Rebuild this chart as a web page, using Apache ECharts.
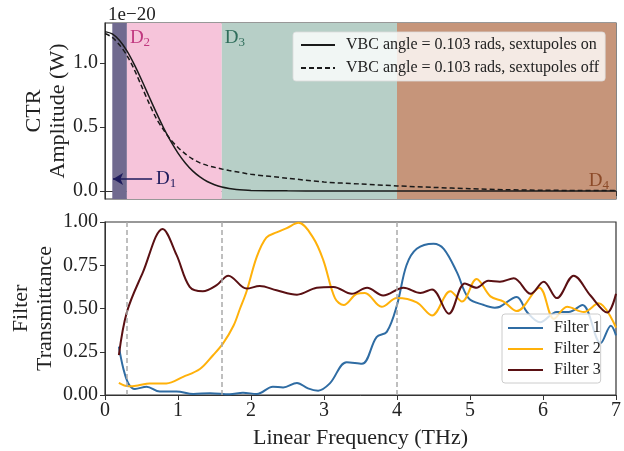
<!DOCTYPE html>
<html>
<head>
<meta charset="utf-8">
<script src="https://cdn.jsdelivr.net/npm/echarts@6/dist/echarts.min.js"></script>
<style>
  html, body { margin: 0; padding: 0; background: #fff; }
  #chart { width: 624px; height: 451px; }
</style>
</head>
<body>
<div id="chart"></div>
<script>
// CTR spectrum (units of 1e-20 W)
var ctrFreq = [0, 0.1, 0.2, 0.3, 0.4, 0.5, 0.6, 0.7, 0.8, 0.9, 1.0, 1.1, 1.2, 1.3, 1.4, 1.5, 1.6, 1.7, 1.8, 1.9, 2.0,
  2.5, 3.0, 3.5, 4.0, 4.5, 5.0, 5.5, 6.0, 6.5, 7.0]
var ctrOn = [1.245, 1.227, 1.175, 1.094, 0.989, 0.869, 0.742, 0.616, 0.496, 0.389, 0.296, 0.219, 0.157, 0.110, 0.074, 0.049, 0.031, 0.020, 0.012, 0.007, 0.004,
  0.001, 0, 0, 0, 0, 0, 0, 0, 0, 0]
var ctrOff = [1.23, 1.20, 1.14, 1.06, 0.95, 0.82, 0.69, 0.57, 0.48, 0.40, 0.34, 0.29, 0.25, 0.22, 0.20, 0.185, 0.172, 0.16, 0.15, 0.14, 0.13,
  0.10, 0.07, 0.055, 0.04, 0.028, 0.018, 0.01, 0.006, 0.004, 0.003]

// detector bands (THz)
var bandNames = ['D1', 'D2', 'D3', 'D4']
var bandStart = [0.1, 0.3, 1.6, 4.0]
var bandEnd = [0.3, 1.6, 4.0, 7.0]

// filter transmittance
var f1Freq = [0.19, 0.25, 0.32, 0.41, 0.57, 0.75, 0.98, 1.21, 1.44, 1.71, 1.89, 2.08, 2.30, 2.44, 2.63, 2.78, 2.92, 3.08, 3.31, 3.52, 3.72, 3.86, 4.0,
  4.13, 4.27, 4.5, 4.64, 4.82, 4.98, 5.19, 5.34, 5.41, 5.64, 5.78, 5.96, 6.19, 6.35, 6.54, 6.79, 6.93, 7.0]
var f1Vals = [0.28, 0.155, 0.067, 0.035, 0.048, 0.02, 0.02, 0.006, 0.01, 0.004, 0.013, 0.006, 0.048, 0.044, 0.07, 0.038, 0.025, 0.067, 0.19, 0.18, 0.335, 0.365, 0.52,
  0.75, 0.845, 0.875, 0.845, 0.71, 0.56, 0.52, 0.505, 0.51, 0.567, 0.48, 0.42, 0.48, 0.48, 0.52, 0.30, 0.40, 0.345]
var f2Freq = [0.19, 0.32, 0.45, 0.61, 0.84, 1.07, 1.30, 1.48, 1.62, 1.76, 1.85, 1.94, 2.08, 2.21, 2.35, 2.49, 2.65, 2.85, 2.99, 3.15, 3.27, 3.45, 3.56, 3.79, 4.0,
  4.27, 4.48, 4.73, 4.89, 5.09, 5.28, 5.46, 5.64, 5.95, 6.15, 6.33, 6.56, 6.76, 7.0]
var f2Vals = [0.07, 0.05, 0.055, 0.067, 0.067, 0.105, 0.15, 0.23, 0.30, 0.40, 0.50, 0.60, 0.80, 0.91, 0.94, 0.965, 0.995, 0.91, 0.78, 0.56, 0.52, 0.585, 0.59, 0.51, 0.56,
  0.535, 0.46, 0.60, 0.54, 0.67, 0.57, 0.54, 0.485, 0.62, 0.44, 0.51, 0.48, 0.53, 0.39]
var f3Freq = [0.19, 0.30, 0.52, 0.79, 0.98, 1.16, 1.34, 1.53, 1.69, 1.94, 2.12, 2.35, 2.63, 2.90, 3.13, 3.38, 3.59, 3.81, 4.09,
  4.32, 4.48, 4.71, 4.93, 5.09, 5.25, 5.41, 5.60, 5.83, 6.01, 6.19, 6.42, 6.65, 6.88, 7.0]
var f3Vals = [0.23, 0.48, 0.71, 0.96, 0.81, 0.625, 0.60, 0.635, 0.69, 0.615, 0.63, 0.605, 0.58, 0.62, 0.625, 0.585, 0.62, 0.575, 0.62,
  0.59, 0.61, 0.47, 0.645, 0.62, 0.66, 0.655, 0.675, 0.585, 0.655, 0.56, 0.69, 0.575, 0.477, 0.585]
var filterMarks = [0.3, 1.6, 4.0]

var FONT = 'Liberation Serif'
var bandColors = ['#706a8f', '#f6c4da', '#b7cfc7', '#c6957a']
var bandLabelColors = ['#1e1b5c', '#c0387f', '#2f6d5b', '#8c4a28']

function zip (xs, ys) {
  return xs.map(function (x, i) { return [x, ys[i]] })
}

function bandLabel (i) {
  return '{a|D}{b|' + bandNames[i].slice(1) + '}'
}

function richFor (color) {
  return {
    a: { fontFamily: FONT, fontSize: 19, color: color },
    b: { fontFamily: FONT, fontSize: 13, color: color, padding: [9, 0, 0, 0] }
  }
}

var bandAreas = bandNames.map(function (n, i) {
  var lbl = { show: i !== 0, formatter: bandLabel(i), rich: richFor(bandLabelColors[i]) }
  if (i === 3) {
    lbl.position = 'insideBottomRight'
    lbl.offset = [-2, -2]
  } else {
    lbl.position = 'insideTopLeft'
    lbl.offset = [-2, -1]
  }
  return [
    { xAxis: bandStart[i], itemStyle: { color: bandColors[i] }, label: lbl },
    { xAxis: bandEnd[i] }
  ]
})

var chart = echarts.init(document.getElementById('chart'))
chart.setOption({
  animation: false,
  textStyle: { fontFamily: FONT },
  title: {
    text: '1e\u221220',
    left: 103,
    top: 1,
    textStyle: { fontFamily: FONT, fontSize: 19, fontWeight: 'normal', color: '#222' }
  },
  grid: [
    { left: 105, top: 23, width: 511, height: 176, outerBoundsMode: 'none', show: true, borderColor: '#333', borderWidth: 1.2 },
    { left: 105, top: 222, width: 511, height: 173, outerBoundsMode: 'none', show: true, borderColor: '#333', borderWidth: 1.2 }
  ],
  legend: [
    {
      data: ['VBC angle = 0.103 rads, sextupoles on', 'VBC angle = 0.103 rads, sextupoles off'],
      orient: 'vertical',
      left: 293,
      top: 32,
      itemWidth: 34,
      itemHeight: 14,
      itemGap: 7,
      padding: [5, 6, 5, 7],
      itemStyle: { opacity: 0 },
      backgroundColor: 'rgba(255,255,255,0.8)',
      borderColor: 'rgba(220,220,220,0.8)',
      borderWidth: 1,
      borderRadius: 3,
      textStyle: { fontFamily: FONT, fontSize: 16, color: '#222', padding: [0, 0, 0, 6] }
    },
    {
      data: ['Filter 1', 'Filter 2', 'Filter 3'],
      orient: 'vertical',
      left: 502,
      top: 314,
      itemWidth: 35,
      itemHeight: 14,
      itemGap: 5,
      padding: [6, 0, 5, 5],
      itemStyle: { opacity: 0 },
      backgroundColor: 'rgba(255,255,255,0.8)',
      borderColor: '#ccc',
      borderWidth: 1,
      borderRadius: 3,
      textStyle: { fontFamily: FONT, fontSize: 16, color: '#222', padding: [0, 0, 0, 6] }
    }
  ],
  xAxis: [
    {
      gridIndex: 0,
      type: 'value',
      min: 0,
      max: 7,
      interval: 1,
      axisLine: { show: true, lineStyle: { color: '#333' } },
      axisTick: { show: true, inside: false, length: 5, lineStyle: { color: '#333' } },
      axisLabel: { show: false },
      splitLine: { show: false }
    },
    {
      gridIndex: 1,
      type: 'value',
      min: 0,
      max: 7,
      interval: 1,
      name: 'Linear Frequency (THz)',
      nameLocation: 'middle',
      nameGap: 32,
      nameMoveOverlap: false,
      nameTextStyle: { fontFamily: FONT, fontSize: 22, color: '#222' },
      axisLine: { show: true, lineStyle: { color: '#333' } },
      axisTick: { show: true, length: 5, lineStyle: { color: '#333' } },
      axisLabel: { fontFamily: FONT, fontSize: 20, color: '#222', margin: 6 },
      splitLine: { show: false }
    }
  ],
  yAxis: [
    {
      gridIndex: 0,
      type: 'value',
      min: -0.0625,
      max: 1.3125,
      name: 'CTR\nAmplitude (W)',
      nameLocation: 'middle',
      nameRotate: 90,
      nameGap: 35,
      nameMoveOverlap: false,
      nameTextStyle: { fontFamily: FONT, fontSize: 22, color: '#222', lineHeight: 24 },
      axisLine: { show: true, lineStyle: { color: '#333' } },
      axisTick: { show: true, length: 5, customValues: [0, 0.5, 1.0], lineStyle: { color: '#333' } },
      axisLabel: {
        fontFamily: FONT, fontSize: 20, color: '#222', margin: 7,
        customValues: [0, 0.5, 1.0],
        formatter: function (v) { return v.toFixed(1) }
      },
      splitLine: { show: false }
    },
    {
      gridIndex: 1,
      type: 'value',
      min: 0,
      max: 1,
      interval: 0.25,
      name: 'Filter\nTransmittance',
      nameLocation: 'middle',
      nameRotate: 90,
      nameGap: 48,
      nameMoveOverlap: false,
      nameTextStyle: { fontFamily: FONT, fontSize: 22, color: '#222', lineHeight: 24 },
      axisLine: { show: true, lineStyle: { color: '#333' } },
      axisTick: { show: true, length: 5, lineStyle: { color: '#333' } },
      axisLabel: {
        fontFamily: FONT, fontSize: 20, color: '#222', margin: 7,
        formatter: function (v) { return v.toFixed(2) }
      },
      splitLine: { show: false }
    }
  ],
  series: [
    {
      name: 'VBC angle = 0.103 rads, sextupoles on',
      type: 'line',
      xAxisIndex: 0,
      yAxisIndex: 0,
      data: zip(ctrFreq, ctrOn),
      smooth: 0.3,
      symbol: 'none',
      lineStyle: { color: '#1a1a1a', width: 1.5 },
      itemStyle: { color: '#1a1a1a' },
      z: 3,
      markArea: { silent: true, data: bandAreas },
      markLine: {
        silent: true,
        symbol: ['none', 'arrow'],
        symbolSize: [9, 10],
        lineStyle: { color: '#1e1b5c', width: 1.6, type: 'solid' },
        label: {
          show: true,
          position: 'start',
          distance: 4,
          formatter: bandLabel(0),
          rich: richFor(bandLabelColors[0])
        },
        data: [[{ coord: [0.645, 0.094] }, { coord: [0.11, 0.094] }]]
      }
    },
    {
      name: 'VBC angle = 0.103 rads, sextupoles off',
      type: 'line',
      xAxisIndex: 0,
      yAxisIndex: 0,
      data: zip(ctrFreq, ctrOff),
      smooth: 0.3,
      symbol: 'none',
      lineStyle: { color: '#1a1a1a', width: 1.5, type: [5, 3] },
      itemStyle: { color: '#1a1a1a' },
      z: 3
    },
    {
      name: 'Filter 1',
      type: 'line',
      xAxisIndex: 1,
      yAxisIndex: 1,
      data: zip(f1Freq, f1Vals),
      smooth: 0.35,
      symbol: 'none',
      lineStyle: { color: '#2f6ca3', width: 2 },
      itemStyle: { color: '#2f6ca3' },
      markLine: {
        silent: true,
        symbol: 'none',
        label: { show: false },
        lineStyle: { color: '#aaaaaa', width: 1.5, type: [5, 3] },
        data: filterMarks.map(function (v) { return { xAxis: v } })
      }
    },
    {
      name: 'Filter 2',
      type: 'line',
      xAxisIndex: 1,
      yAxisIndex: 1,
      data: zip(f2Freq, f2Vals),
      smooth: 0.35,
      symbol: 'none',
      lineStyle: { color: '#ffb10a', width: 2 },
      itemStyle: { color: '#ffb10a' }
    },
    {
      name: 'Filter 3',
      type: 'line',
      xAxisIndex: 1,
      yAxisIndex: 1,
      data: zip(f3Freq, f3Vals),
      smooth: 0.35,
      symbol: 'none',
      lineStyle: { color: '#5a1013', width: 2 },
      itemStyle: { color: '#5a1013' }
    }
  ]
})
</script>
</body>
</html>
